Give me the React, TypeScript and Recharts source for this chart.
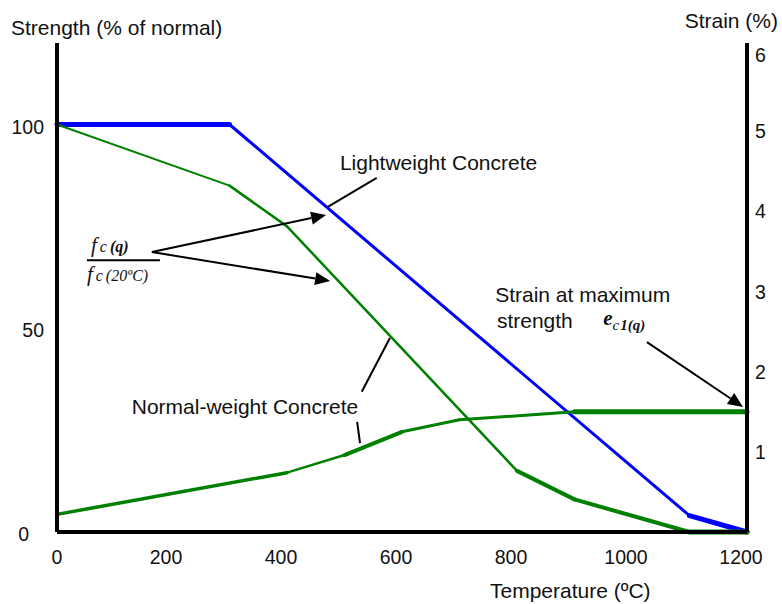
import React from 'react'
import { LineChart, Line, XAxis, YAxis, ReferenceLine, ReferenceDot, Label } from 'recharts'

// temperature (ºC) / value pairs
const lwTemps = [0, 300, 1100, 1200]
const lwStrength = [100, 100, 4, 0]
const lwWidths = [5, 3, 5]

const nwTemps = [0, 300, 400, 800, 900, 1100, 1200]
const nwStrength = [100, 85, 75, 15, 8, 0, 0]
const nwWidths = [2, 2.5, 2.5, 4, 4, 5]

const strainTemps = [0, 400, 500, 600, 700, 900, 1200]
const strainValues = [0.22, 0.74, 0.96, 1.25, 1.4, 1.5, 1.5]
const strainWidths = [3.5, 2.5, 4, 3, 3, 5]

const xTicks = [0, 200, 400, 600, 800, 1000, 1200]
const leftTicks = [0, 50, 100]
const rightTicks = [1, 2, 3, 4, 5, 6]

const SANS = "'Liberation Sans', Arial, Helvetica, sans-serif"
const SERIF = "'Liberation Serif', 'Times New Roman', serif"
const GREEN = '#008000'
const BLUE = '#0000ff'
const FS = 21
const TICK_FS = 19.5

function segments(temps: number[], values: number[]) {
    const out: Array<Array<{ temp: number; v: number }>> = []
    for (let i = 0; i < temps.length - 1; i++) {
        out.push([
            { temp: temps[i], v: values[i] },
            { temp: temps[i + 1], v: values[i + 1] },
        ])
    }
    return out
}

const arrow = (head: boolean) => (p: any) => {
    const { x1, y1, x2, y2 } = p
    const dx = x2 - x1
    const dy = y2 - y1
    const len = Math.sqrt(dx * dx + dy * dy)
    const ux = dx / len
    const uy = dy / len
    const L = head ? 15 : 0
    const bx = x2 - ux * L
    const by = y2 - uy * L
    return (
        <g>
            <line x1={x1} y1={y1} x2={bx} y2={by} stroke="#000" strokeWidth={2} />
            {head && (
                <polygon
                    points={`${x2},${y2} ${bx - uy * 6.5},${by + ux * 6.5} ${bx + uy * 6.5},${by - ux * 6.5}`}
                    fill="#000"
                />
            )}
        </g>
    )
}

const textAt = (text: string, size = FS) => (p: any) => (
    <text x={p.cx} y={p.cy} fontFamily={SANS} fontSize={size} fill="#111" dominantBaseline="central">
        {text}
    </text>
)

const LeftTick = (p: any) => (
    <text x={p.x + (p.payload.value === 0 ? -15 : 0)} y={p.y + 2} textAnchor="end" dominantBaseline="central"
        fontFamily={SANS} fontSize={TICK_FS} fill="#111">
        {p.payload.value}
    </text>
)

const RightTick = (p: any) => (
    <text x={p.x} y={p.y + (p.payload.value === 6 ? 4 : 0)} textAnchor="start" dominantBaseline="central"
        fontFamily={SANS} fontSize={TICK_FS} fill="#111">
        {p.payload.value}
    </text>
)

const BottomTick = (p: any) => (
    <text x={p.x + (p.payload.value === 0 ? 0 : -6)} y={p.y} textAnchor="middle" dominantBaseline="central"
        fontFamily={SANS} fontSize={TICK_FS} fill="#111">
        {p.payload.value}
    </text>
)

export default function App() {
    const axisLine = { stroke: '#000', strokeWidth: 4 }
    return (
        <div style={{ position: 'absolute', left: 0, top: 0, background: '#fff' }}>
            <LineChart width={782} height={604} margin={{ top: 43, right: 0, bottom: 0, left: 0 }}>
                <XAxis
                    type="number"
                    dataKey="temp"
                    domain={[0, 1200]}
                    ticks={xTicks}
                    height={72}
                    axisLine={axisLine}
                    tickLine={false}
                    tickSize={0}
                    tickMargin={25}
                    tick={<BottomTick />}
                >
                    <Label
                        content={(p: any) => (
                            <text x={p.viewBox.x + 433} y={p.viewBox.y + 58} dominantBaseline="central" fontFamily={SANS} fontSize={FS} fill="#111">
                                Temperature (ºC)
                            </text>
                        )}
                    />
                </XAxis>
                <YAxis
                    yAxisId="left"
                    type="number"
                    domain={[0, 120]}
                    ticks={leftTicks}
                    width={57}
                    axisLine={axisLine}
                    tickLine={false}
                    tickSize={0}
                    tickMargin={13}
                    tick={<LeftTick />}
                >
                    <Label
                        content={(p: any) => (
                            <text x={p.viewBox.x + 11} y={p.viewBox.y - 16} dominantBaseline="central" fontFamily={SANS} fontSize={FS} fill="#111">
                                Strength (% of normal)
                            </text>
                        )}
                    />
                </YAxis>
                <YAxis
                    yAxisId="right"
                    orientation="right"
                    type="number"
                    domain={[0, 6.1]}
                    ticks={rightTicks}
                    width={35}
                    axisLine={axisLine}
                    tickLine={false}
                    tickSize={0}
                    tickMargin={8}
                    tick={<RightTick />}
                >
                    <Label
                        content={(p: any) => (
                            <text x={p.viewBox.x + 31} y={p.viewBox.y - 23} textAnchor="end" dominantBaseline="central" fontFamily={SANS} fontSize={FS} fill="#111">
                                Strain (%)
                            </text>
                        )}
                    />
                </YAxis>

                {segments(lwTemps, lwStrength).map((seg, i) => (
                    <Line key={`lw-${i}`} data={seg} dataKey="v" yAxisId="left" type="linear" stroke={BLUE}
                        strokeWidth={lwWidths[i]} strokeLinecap="round" dot={false} activeDot={false} isAnimationActive={false} />
                ))}
                {segments(nwTemps, nwStrength).map((seg, i) => (
                    <Line key={`nw-${i}`} data={seg} dataKey="v" yAxisId="left" type="linear" stroke={GREEN}
                        strokeWidth={nwWidths[i]} strokeLinecap="round" dot={false} activeDot={false} isAnimationActive={false} />
                ))}
                {segments(strainTemps, strainValues).map((seg, i) => (
                    <Line key={`st-${i}`} data={seg} dataKey="v" yAxisId="right" type="linear" stroke={GREEN}
                        strokeWidth={strainWidths[i]} strokeLinecap="round" dot={false} activeDot={false} isAnimationActive={false} />
                ))}

                {/* annotations */}
                <ReferenceDot yAxisId="left" x={492} y={90.6} r={0} shape={textAt('Lightweight Concrete')} />
                <ReferenceLine yAxisId="left" segment={[{ x: 556, y: 86.9 }, { x: 471, y: 79.8 }]} shape={arrow(false)} />

                <ReferenceDot
                    yAxisId="left"
                    x={59}
                    y={68.7}
                    r={0}
                    shape={(p: any) => (
                        <text x={p.cx} y={p.cy} fontFamily={SERIF} fontStyle="italic" fontSize={21} fill="#111">
                            f<tspan fontSize={16} dx={3}>c</tspan>
                            <tspan fontSize={16} fontWeight="bold" dx={3}>(q)</tspan>
                        </text>
                    )}
                />
                <ReferenceLine yAxisId="left" segment={[{ x: 52, y: 66.7 }, { x: 179, y: 66.7 }]} shape={arrow(false)} />
                <ReferenceDot
                    yAxisId="left"
                    x={52}
                    y={61.6}
                    r={0}
                    shape={(p: any) => (
                        <text x={p.cx} y={p.cy} fontFamily={SERIF} fontStyle="italic" fontSize={21} fill="#111">
                            f<tspan fontSize={16} dx={3}>c</tspan>
                            <tspan fontSize={16} dx={3}>(20ºC)</tspan>
                        </text>
                    )}
                />
                <ReferenceLine yAxisId="left" segment={[{ x: 165, y: 68.7 }, { x: 468, y: 77.8 }]} shape={arrow(true)} />
                <ReferenceLine yAxisId="left" segment={[{ x: 165, y: 68.7 }, { x: 475, y: 61.6 }]} shape={arrow(true)} />

                <ReferenceDot yAxisId="left" x={130} y={30.7} r={0} shape={textAt('Normal-weight Concrete')} />
                <ReferenceLine yAxisId="left" segment={[{ x: 530, y: 34.4 }, { x: 579, y: 47.6 }]} shape={arrow(false)} />
                <ReferenceLine yAxisId="left" segment={[{ x: 522, y: 27 }, { x: 527, y: 21.8 }]} shape={arrow(false)} />

                <ReferenceDot yAxisId="left" x={762} y={58.4} r={0} shape={textAt('Strain at maximum')} />
                <ReferenceDot yAxisId="left" x={765} y={52} r={0} shape={textAt('strength')} />
                <ReferenceDot
                    yAxisId="left"
                    x={950}
                    y={50.8}
                    r={0}
                    shape={(p: any) => (
                        <text x={p.cx} y={p.cy} fontFamily={SERIF} fontStyle="italic" fontSize={21} fontWeight="bold" fill="#111">
                            e<tspan fontSize={15} fontWeight="normal" dy={5}>c</tspan>
                            <tspan fontSize={15} dx={1}>1</tspan>
                            <tspan fontSize={15} fontWeight="bold">(q)</tspan>
                        </text>
                    )}
                />
                <ReferenceLine yAxisId="left" segment={[{ x: 1026, y: 46.6 }, { x: 1193, y: 30.7 }]} shape={arrow(true)} />
            </LineChart>
        </div>
    )
}
